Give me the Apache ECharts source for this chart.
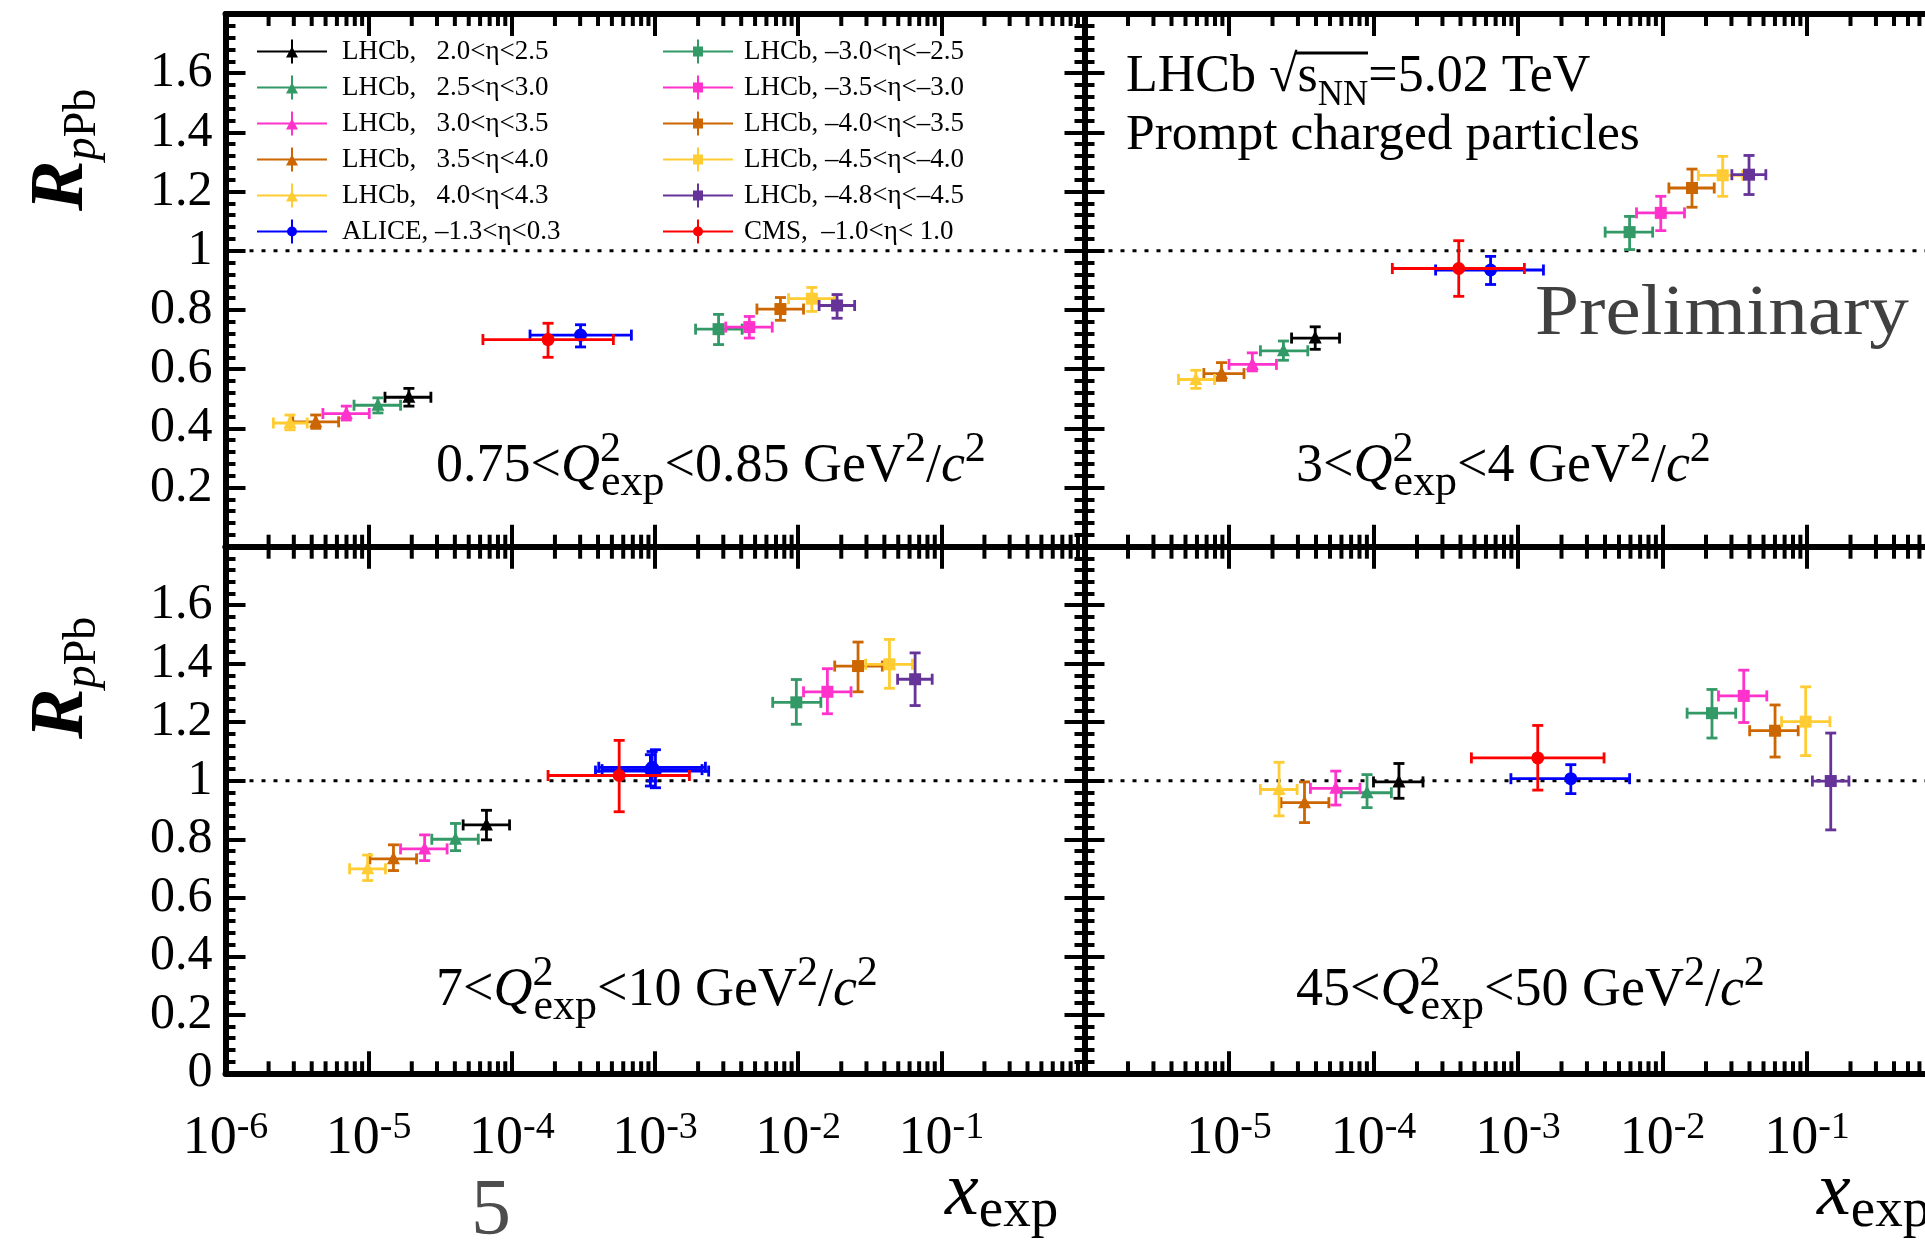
<!DOCTYPE html>
<html>
<head>
<meta charset="utf-8">
<title>R_pPb vs x_exp</title>
<script src="https://cdn.jsdelivr.net/npm/echarts@6/dist/echarts.min.js"></script>
<style>
  html, body { margin: 0; padding: 0; background: #fff; }
  #rpPbChart { width: 1925px; height: 1242px; }
</style>
</head>
<body>
<div id="rpPbChart"></div>
<script>
// rows: [panel, x, R, xLow, xHigh, RLow, RHigh]
// panel 0 = 0.75<Q2<0.85, 1 = 3<Q2<4, 2 = 7<Q2<10, 3 = 45<Q2<50
var lhcbFwd20 = [
  [0, 1.91e-5, 0.505, 1.30e-5, 2.72e-5, 0.475, 0.535],
  [1, 3.95e-5, 0.705, 2.71e-5, 5.82e-5, 0.667, 0.743],
  [2, 6.65e-5, 0.849, 4.57e-5, 9.64e-5, 0.798, 0.899],
  [3, 1.50e-4, 0.996, 1.00e-4, 2.20e-4, 0.940, 1.059]
]
var lhcbFwd25 = [
  [0, 1.16e-5, 0.478, 7.90e-6, 1.67e-5, 0.452, 0.503],
  [1, 2.38e-5, 0.662, 1.65e-5, 3.51e-5, 0.630, 0.695],
  [2, 4.04e-5, 0.800, 2.76e-5, 5.83e-5, 0.761, 0.854],
  [3, 9.02e-5, 0.959, 5.97e-5, 1.33e-4, 0.908, 1.021]
]
var lhcbFwd30 = [
  [0, 6.98e-6, 0.450, 4.79e-6, 1.01e-5, 0.428, 0.475],
  [1, 1.45e-5, 0.616, 1.00e-5, 2.13e-5, 0.594, 0.655],
  [2, 2.46e-5, 0.767, 1.67e-5, 3.53e-5, 0.727, 0.815],
  [3, 5.48e-5, 0.974, 3.66e-5, 8.07e-5, 0.917, 1.033]
]
var lhcbFwd35 = [
  [0, 4.27e-6, 0.422, 2.95e-6, 6.17e-6, 0.400, 0.445],
  [1, 8.87e-6, 0.585, 6.70e-6, 1.27e-5, 0.562, 0.622],
  [2, 1.49e-5, 0.733, 1.02e-5, 2.16e-5, 0.693, 0.781],
  [3, 3.33e-5, 0.925, 2.29e-5, 4.91e-5, 0.857, 0.996]
]
var lhcbFwd40 = [
  [0, 2.82e-6, 0.418, 2.16e-6, 3.72e-6, 0.395, 0.445],
  [1, 5.89e-6, 0.565, 4.47e-6, 7.94e-6, 0.535, 0.596],
  [2, 9.84e-6, 0.699, 7.36e-6, 1.31e-5, 0.659, 0.746],
  [3, 2.22e-5, 0.970, 1.65e-5, 2.96e-5, 0.880, 1.063]
]
var alice = [
  [0, 3.02e-4, 0.715, 1.34e-4, 6.84e-4, 0.675, 0.750],
  [1, 6.46e-4, 0.935, 2.69e-4, 1.50e-3, 0.886, 0.981],
  [2, 9.55e-4, 1.046, 4.05e-4, 2.25e-3, 0.999, 1.100],
  [2, 9.29e-4, 1.038, 4.27e-4, 2.13e-3, 0.982, 1.089],
  [2, 1.007e-3, 1.033, 3.84e-4, 2.37e-3, 0.976, 1.106],
  [3, 2.32e-3, 1.007, 8.93e-4, 5.92e-3, 0.956, 1.055]
]
var lhcbBwd30 = [
  [0, 2.78e-3, 0.735, 1.92e-3, 4.06e-3, 0.683, 0.785],
  [1, 5.92e-3, 1.063, 4.01e-3, 8.55e-3, 1.004, 1.116],
  [2, 9.71e-3, 1.268, 6.64e-3, 1.44e-2, 1.193, 1.346],
  [3, 2.20e-2, 1.231, 1.48e-2, 3.21e-2, 1.146, 1.312]
]
var lhcbBwd35 = [
  [0, 4.56e-3, 0.742, 3.12e-3, 6.59e-3, 0.705, 0.778],
  [1, 9.73e-3, 1.128, 6.61e-3, 1.42e-2, 1.068, 1.184],
  [2, 1.60e-2, 1.304, 1.09e-2, 2.34e-2, 1.229, 1.383],
  [3, 3.65e-2, 1.290, 2.44e-2, 5.27e-2, 1.199, 1.378]
]
var lhcbBwd40 = [
  [0, 7.52e-3, 0.803, 5.15e-3, 1.09e-2, 0.765, 0.842],
  [1, 1.60e-2, 1.212, 1.107e-2, 2.28e-2, 1.147, 1.276],
  [2, 2.62e-2, 1.392, 1.80e-2, 3.87e-2, 1.304, 1.474],
  [3, 6.01e-2, 1.171, 4.01e-2, 8.69e-2, 1.081, 1.259]
]
var lhcbBwd45 = [
  [0, 1.245e-2, 0.838, 8.57e-3, 1.79e-2, 0.795, 0.876],
  [1, 2.61e-2, 1.255, 1.77e-2, 3.59e-2, 1.184, 1.319],
  [2, 4.34e-2, 1.398, 2.96e-2, 6.28e-2, 1.316, 1.483],
  [3, 9.79e-2, 1.202, 6.67e-2, 0.144, 1.086, 1.321]
]
var lhcbBwd48 = [
  [0, 1.87e-2, 0.815, 1.40e-2, 2.48e-2, 0.772, 0.852],
  [1, 3.97e-2, 1.257, 3.02e-2, 5.19e-2, 1.190, 1.322],
  [2, 6.56e-2, 1.347, 4.95e-2, 8.63e-2, 1.257, 1.437],
  [3, 0.146, 0.999, 0.109, 0.195, 0.832, 1.163]
]
var cms = [
  [0, 1.79e-4, 0.700, 6.28e-5, 5.12e-4, 0.640, 0.755],
  [1, 3.89e-4, 0.940, 1.35e-4, 1.107e-3, 0.846, 1.034],
  [2, 5.62e-4, 1.018, 1.79e-4, 1.74e-3, 0.894, 1.138],
  [3, 1.37e-3, 1.078, 4.76e-4, 3.94e-3, 0.968, 1.189]
]

var legendLeft = ['LHCb,   2.0<η<2.5', 'LHCb,   2.5<η<3.0', 'LHCb,   3.0<η<3.5', 'LHCb,   3.5<η<4.0', 'LHCb,   4.0<η<4.3', 'ALICE, –1.3<η<0.3']
var legendRight = ['LHCb, –3.0<η<–2.5', 'LHCb, –3.5<η<–3.0', 'LHCb, –4.0<η<–3.5', 'LHCb, –4.5<η<–4.0', 'LHCb, –4.8<η<–4.5', 'CMS,  –1.0<η< 1.0']
var datasets = [lhcbFwd20, lhcbFwd25, lhcbFwd30, lhcbFwd35, lhcbFwd40, alice,
  lhcbBwd30, lhcbBwd35, lhcbBwd40, lhcbBwd45, lhcbBwd48, cms]

var q2Low = ['0.75', '3', '7', '45']
var q2High = ['0.85', '4', '10', '50']
var xMin = 1e-6
var xMax = 1
var yMin = 0
var yMax = 1.8
var yStep = 0.2

// styles, same order as datasets
var colors = ['#000000', '#339966', '#FF33CC', '#CC6600', '#FFCC33', '#0000FF',
  '#339966', '#FF33CC', '#CC6600', '#FFCC33', '#663399', '#FF0000']
var shapes = ['tri', 'tri', 'tri', 'tri', 'tri', 'circ', 'sq', 'sq', 'sq', 'sq', 'sq', 'circ']
var SERIF = '"Liberation Serif", "Times New Roman", serif'

var gridBoxes = [
  { left: 225.5, top: 14, width: 859, height: 532.7 },
  { left: 1084.5, top: 14, width: 867, height: 532.7 },
  { left: 225.5, top: 546.7, width: 859, height: 526.6 },
  { left: 1084.5, top: 546.7, width: 867, height: 526.6 }
]

var icons = {
  tri: 'path://M0,11H70V13H0Z M34,0H36V24H34Z M29,18L35,7L41,18Z',
  sq: 'path://M0,11H70V13H0Z M34,0H36V24H34Z M30,7H40V17H30Z',
  circ: 'path://M0,11H70V13H0Z M34,0H36V24H34Z M30,12A5,5 0 1,1 40,12A5,5 0 1,1 30,12Z'
}

// minor log ticks 2..9 x 10^k
var minorTicks = []
for (var k = -6; k < 0; k++) {
  for (var m = 2; m < 10; m++) {
    minorTicks.push([m * Math.pow(10, k), 1])
  }
}

function makeErrorBar (shape) {
  return function (params, api) {
    var x = api.value(0)
    var y = api.value(1)
    var c = api.coord([x, y])
    var l = api.coord([api.value(2), y])
    var r = api.coord([api.value(3), y])
    var lo = api.coord([x, api.value(4)])
    var hi = api.coord([x, api.value(5)])
    var color = api.visual('color')
    var st = { stroke: color, lineWidth: 2.8, fill: null }
    var cap = 5.5
    var kids = [
      { type: 'line', shape: { x1: l[0], y1: c[1], x2: r[0], y2: c[1] }, style: st },
      { type: 'line', shape: { x1: l[0], y1: c[1] - cap, x2: l[0], y2: c[1] + cap }, style: st },
      { type: 'line', shape: { x1: r[0], y1: c[1] - cap, x2: r[0], y2: c[1] + cap }, style: st },
      { type: 'line', shape: { x1: c[0], y1: lo[1], x2: c[0], y2: hi[1] }, style: st },
      { type: 'line', shape: { x1: c[0] - cap, y1: lo[1], x2: c[0] + cap, y2: lo[1] }, style: st },
      { type: 'line', shape: { x1: c[0] - cap, y1: hi[1], x2: c[0] + cap, y2: hi[1] }, style: st }
    ]
    var fill = { fill: color }
    if (shape === 'tri') {
      kids.push({ type: 'polygon', shape: { points: [[c[0], c[1] - 7.5], [c[0] - 6.5, c[1] + 5.5], [c[0] + 6.5, c[1] + 5.5]] }, style: fill })
    } else if (shape === 'sq') {
      kids.push({ type: 'rect', shape: { x: c[0] - 6, y: c[1] - 6, width: 12, height: 12 }, style: fill })
    } else {
      kids.push({ type: 'circle', shape: { cx: c[0], cy: c[1], r: 6.5 }, style: fill })
    }
    return { type: 'group', children: kids }
  }
}

function renderMinorTicks (params, api) {
  var cs = params.coordSys
  var px = api.coord([api.value(0), api.value(1)])[0]
  var st = { stroke: '#000', lineWidth: 4 }
  return {
    type: 'group',
    children: [
      { type: 'line', shape: { x1: px, y1: cs.y + cs.height, x2: px, y2: cs.y + cs.height - 12 }, style: st },
      { type: 'line', shape: { x1: px, y1: cs.y, x2: px, y2: cs.y + 12 }, style: st }
    ]
  }
}

function renderUnity (params, api) {
  var cs = params.coordSys
  var py = api.coord([api.value(0), api.value(1)])[1]
  return {
    type: 'line',
    shape: { x1: cs.x, y1: py, x2: cs.x + cs.width, y2: py },
    style: { stroke: '#000', lineWidth: 3, lineDash: [4, 8] }
  }
}

function yLabel (v) {
  var r = Math.round(v * 10) / 10
  if (r === 0) return '0'
  if (r === 1) return '1'
  return r.toFixed(1)
}

var grids = []
var xAxes = []
var yAxes = []
gridBoxes.forEach(function (g, p) {
  grids.push({ left: g.left, top: g.top, width: g.width, height: g.height, containLabel: false, outerBoundsMode: 'none' })
  ;['bottom', 'top'].forEach(function (pos) {
    xAxes.push({
      type: 'log',
      logBase: 10,
      min: xMin,
      max: xMax,
      splitNumber: 6,
      gridIndex: p,
      position: pos,
      axisLine: { show: true, onZero: false, lineStyle: { color: '#000', width: 6 } },
      axisTick: { show: true, inside: true, length: 22, lineStyle: { color: '#000', width: 4 } },
      splitLine: { show: false },
      axisLabel: {
        show: pos === 'bottom' && p >= 2,
        margin: 36,
        formatter: function (v) {
          var e = Math.round(Math.log10(v))
          if (e === 0 || (p % 2 === 1 && e === -6)) return ''
          return '{b|10}{s|-' + (-e) + '}'
        },
        rich: {
          b: { fontFamily: SERIF, fontSize: 54, color: '#000', lineHeight: 60 },
          s: { fontFamily: SERIF, fontSize: 38, color: '#000', lineHeight: 20, verticalAlign: 'top' }
        }
      }
    })
  })
  ;['left', 'right'].forEach(function (pos) {
    yAxes.push({
      type: 'value',
      min: yMin,
      max: yMax,
      interval: yStep,
      gridIndex: p,
      position: pos,
      axisLine: { show: true, onZero: false, lineStyle: { color: '#000', width: 6 } },
      axisTick: { show: true, inside: true, length: 20, lineStyle: { color: '#000', width: 4 } },
      minorTick: { show: true, splitNumber: 5, length: 10, lineStyle: { color: '#000', width: 4 } },
      splitLine: { show: false },
      minorSplitLine: { show: false },
      axisLabel: {
        show: pos === 'left' && p % 2 === 0,
        margin: 13,
        fontFamily: SERIF,
        fontSize: 50,
        color: '#000',
        showMinLabel: p === 2,
        showMaxLabel: false,
        formatter: yLabel
      }
    })
  })
})

var allNames = legendLeft.concat(legendRight)
var series = []
gridBoxes.forEach(function (g, p) {
  series.push({
    type: 'custom', name: 'minorTicks', silent: true, xAxisIndex: p * 2, yAxisIndex: p * 2,
    data: minorTicks, renderItem: renderMinorTicks, z: 5
  })
  series.push({
    type: 'custom', name: 'unity', silent: true, xAxisIndex: p * 2, yAxisIndex: p * 2,
    data: [[xMin, 1]], renderItem: renderUnity, z: 4
  })
  datasets.forEach(function (ds, d) {
    series.push({
      type: 'custom',
      name: allNames[d],
      xAxisIndex: p * 2,
      yAxisIndex: p * 2,
      itemStyle: { color: colors[d] },
      renderItem: makeErrorBar(shapes[d]),
      encode: { x: [0, 2, 3], y: [1, 4, 5] },
      data: ds.filter(function (r) { return r[0] === p }).map(function (r) { return r.slice(1) }),
      z: 10
    })
  })
})

function legendFor (names, left, pad) {
  return {
    left: left,
    top: 38,
    orient: 'vertical',
    padding: 0,
    itemWidth: 70,
    itemHeight: 24,
    itemGap: 9,
    selectedMode: false,
    data: names.map(function (n) {
      return { name: n, icon: icons[shapes[allNames.indexOf(n)]] }
    }),
    textStyle: { fontFamily: SERIF, fontSize: 27, color: '#000', lineHeight: 24, padding: [0, 0, 0, pad] }
  }
}

var q2Rich = {
  n: { fontFamily: SERIF, fontSize: 54, lineHeight: 76 },
  q: { fontFamily: SERIF, fontSize: 54, fontStyle: 'italic', lineHeight: 76 },
  sp: { fontFamily: SERIF, fontSize: 42, lineHeight: 45, verticalAlign: 'top', width: 1 },
  sb: { fontFamily: SERIF, fontSize: 44, lineHeight: 27, verticalAlign: 'bottom' },
  s2: { fontFamily: SERIF, fontSize: 42, lineHeight: 45, verticalAlign: 'top' }
}
function q2Text (p) {
  return '{n|' + q2Low[p] + '<}{q|Q}{sp|2}{sb|exp}{n|<' + q2High[p] + ' GeV}{s2|2}{n|/}{q|c}{s2|2}'
}
var q2Pos = [[436, 429], [1296, 429], [436, 953], [1296, 953]]

var graphics = []
q2Pos.forEach(function (pos, p) {
  graphics.push({
    type: 'text', x: pos[0], y: pos[1], z: 20,
    style: { text: q2Text(p), rich: q2Rich, fill: '#000', align: 'left', verticalAlign: 'top', textAlign: 'left', textVerticalAlign: 'top' }
  })
})
graphics.push({
  type: 'text', x: 1126, y: 41, z: 20,
  style: {
    text: '{n|LHCb √s}{sb|NN}{n|=5.02 TeV}', fill: '#000', align: 'left', verticalAlign: 'top', textAlign: 'left', textVerticalAlign: 'top',
    rich: {
      n: { fontFamily: SERIF, fontSize: 52, lineHeight: 72 },
      sb: { fontFamily: SERIF, fontSize: 35, lineHeight: 32, verticalAlign: 'bottom' }
    }
  }
})
graphics.push({
  type: 'line', z: 20,
  shape: { x1: 1295, y1: 53, x2: 1368, y2: 53 },
  style: { stroke: '#000', lineWidth: 3 }
})
graphics.push({
  type: 'text', x: 1126, y: 135, z: 20,
  style: { text: 'Prompt charged particles', fill: '#000', fontFamily: SERIF, fontSize: 51.5, align: 'left', verticalAlign: 'middle', textAlign: 'left', textVerticalAlign: 'middle' }
})
graphics.push({
  type: 'text', x: 1535, y: 315, z: 20, scaleX: 1.1,
  style: { text: 'Preliminary', fill: '#404040', fontFamily: SERIF, fontSize: 72, align: 'left', verticalAlign: 'middle', textAlign: 'left', textVerticalAlign: 'middle' }
})
var rRich = {
  r: { fontFamily: SERIF, fontSize: 76, fontStyle: 'italic', fontWeight: 'bold', lineHeight: 88 },
  p: { fontFamily: SERIF, fontSize: 46, fontStyle: 'italic', lineHeight: 37, verticalAlign: 'bottom' },
  b: { fontFamily: SERIF, fontSize: 46, lineHeight: 37, verticalAlign: 'bottom' }
}
;[211, 739].forEach(function (yy) {
  graphics.push({
    type: 'text', x: 18, y: yy, rotation: Math.PI / 2, z: 20,
    style: { text: '{r|R}{p|p}{b|Pb}', rich: rRich, fill: '#000', align: 'left', verticalAlign: 'top', textAlign: 'left', textVerticalAlign: 'top' }
  })
})
var xRich = {
  x: { fontFamily: SERIF, fontSize: 76, fontStyle: 'italic', lineHeight: 90 },
  e: { fontFamily: SERIF, fontSize: 55, lineHeight: 52, verticalAlign: 'bottom' }
}
;[945, 1817].forEach(function (xx) {
  graphics.push({
    type: 'text', x: xx, y: 1149, z: 20,
    style: { text: '{x|x}{e|exp}', rich: xRich, fill: '#000', align: 'left', verticalAlign: 'top', textAlign: 'left', textVerticalAlign: 'top' }
  })
})
graphics.push({
  type: 'text', x: 471, y: 1213, z: 20,
  style: { text: '5', fill: '#4d4d4d', fontFamily: SERIF, fontSize: 80, align: 'left', verticalAlign: 'middle', textAlign: 'left', textVerticalAlign: 'middle' }
})

var myChart = echarts.init(document.getElementById('rpPbChart'), null, { renderer: 'canvas' })
var option = {
  animation: false,
  backgroundColor: '#fff',
  grid: grids,
  xAxis: xAxes,
  yAxis: yAxes,
  legend: [legendFor(legendLeft, 257, 10), legendFor(legendRight, 663, 6)],
  series: series,
  graphic: graphics
}
myChart.setOption(option)
</script>
</body>
</html>
